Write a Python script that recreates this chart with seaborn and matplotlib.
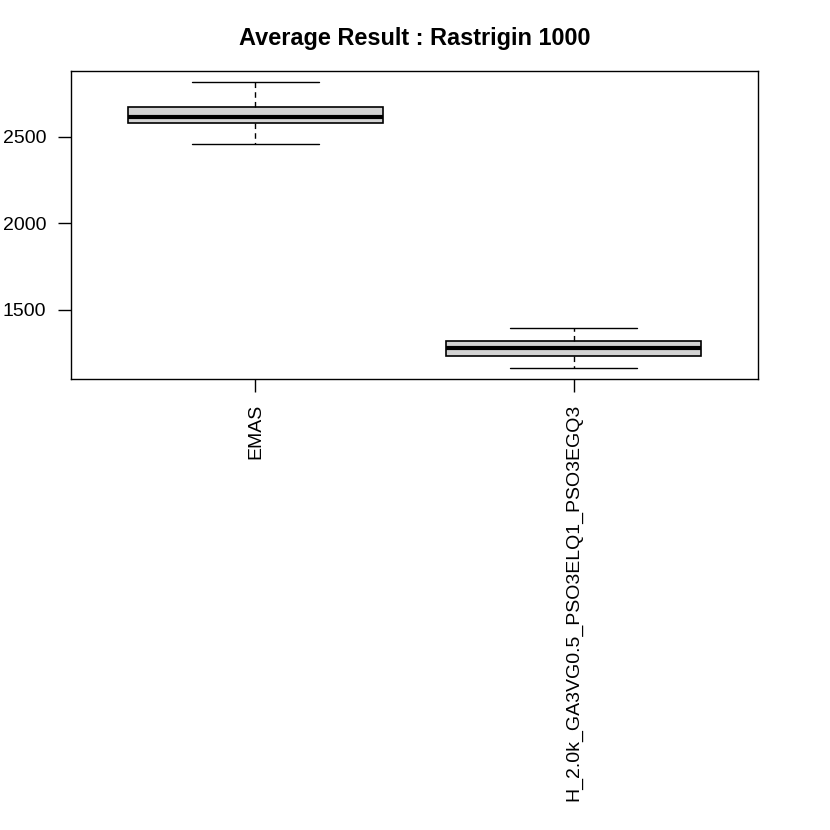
import numpy as np
import pandas as pd
import seaborn as sns
import matplotlib.pyplot as plt

# five-number summaries (min, q1, median, q3, max)
methods = ["EMAS", "H_2.0k_GA3VG0.5_PSO3ELQ1_PSO3EGQ3"]
emas_vals = [2456, 2579, 2612, 2673, 2814]
hybrid_vals = [1167, 1233, 1282, 1323, 1398]
y_ticks = [1500, 2000, 2500]

df = pd.DataFrame({
    "method": [methods[0]] * len(emas_vals) + [methods[1]] * len(hybrid_vals),
    "value": emas_vals + hybrid_vals,
})

sns.set_style("white")
plt.rcParams['font.family'] = ['Liberation Sans', 'DejaVu Sans']
plt.rcParams['text.color'] = 'black'
plt.rcParams['xtick.color'] = 'black'
plt.rcParams['ytick.color'] = 'black'

fig = plt.figure(figsize=(8.3, 8.3), dpi=100)
ax = fig.add_axes([71 / 830, 1 - 379 / 830, 687 / 830, 308 / 830])

sns.boxplot(
    data=df, x="method", y="value", ax=ax,
    whis=(0, 100), width=0.8, color="#D3D3D3", linecolor="black",
    linewidth=1.2, showfliers=False, saturation=1,
    medianprops=dict(color="black", linewidth=3),
    whiskerprops=dict(color="black", linestyle=(0, (4, 3)), linewidth=1.0),
    capprops=dict(color="black", linewidth=1.0),
    boxprops=dict(edgecolor="black", linewidth=1.2),
)

lo = min(emas_vals + hybrid_vals)
hi = max(emas_vals + hybrid_vals)
pad = 0.04 * (hi - lo)
ax.set_ylim(lo - pad, hi + pad)
ax.set_xlim(-0.58, 1.58)
ax.set_yticks(y_ticks)
ax.set_yticklabels([str(t) for t in y_ticks])

for s in ax.spines.values():
    s.set_visible(True)
    s.set_color("black")
    s.set_linewidth(1.0)

ax.tick_params(axis="both", direction="out", length=9.4, width=1.0,
               color="black", labelcolor="black", labelsize=14, pad=8.5,
               bottom=True, left=True)
ax.tick_params(axis="x", labelrotation=90)
ax.set_xlabel("")
ax.set_ylabel("")
ax.set_title("Average Result : Rastrigin 1000", fontsize=16.9,
             fontweight="bold", pad=19, color="black")

plt.savefig("out.png", dpi=100)
